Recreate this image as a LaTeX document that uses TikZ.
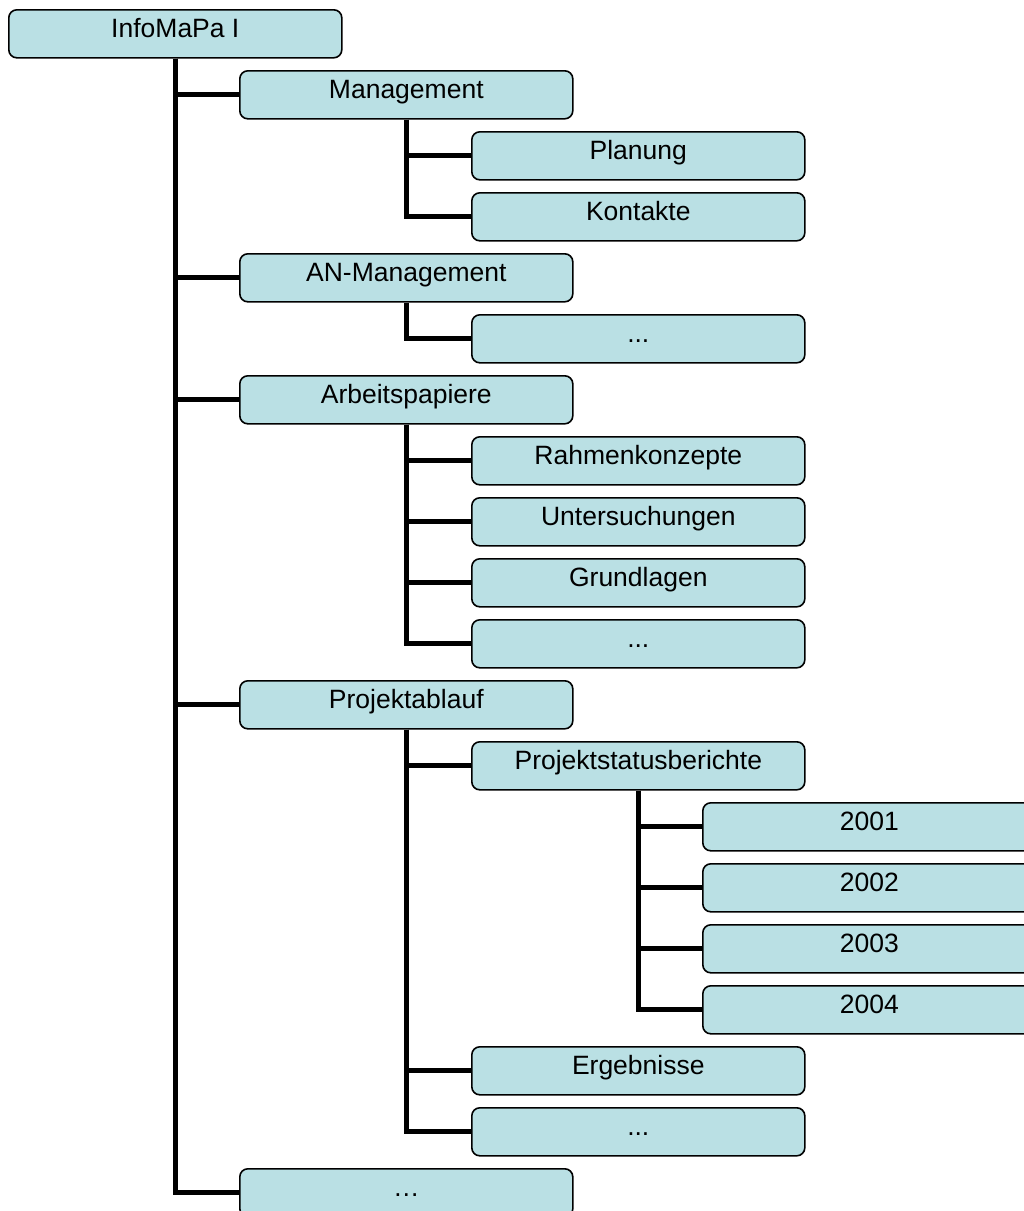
\documentclass[tikz,border=0pt]{standalone}
\usepackage{fontspec}
\setmainfont{Liberation Sans}
\definecolor{boxblue}{RGB}{186, 224, 228}
\usetikzlibrary{positioning}

\begin{document}
\begin{tikzpicture}[x=1pt, y=-1pt,
    folder/.style={draw=black, line width=1.6pt, fill=boxblue, rounded corners=8pt,
      minimum width=333pt, minimum height=48pt, inner sep=0pt, anchor=north west,
      text height=15pt, text depth=7pt, font=\fontsize{26.5}{30}\selectfont},
    branch/.style={line width=5pt, black}]
  \useasboundingbox (0,0) rectangle (1024,1211);
  \clip (0,0) rectangle (1024,1211);

  % root
  \path (8,9) node[folder] (root) {InfoMaPa I};

  % level 1
  \path (239,70)   node[folder] (mgmt) {Management};
  \path (239,253)  node[folder] (anmgmt) {AN-Management};
  \path (239,375)  node[folder] (papers) {Arbeitspapiere};
  \path (239,680)  node[folder] (ablauf) {Projektablauf};
  \path (239,1168) node[folder] (more) {…};

  % level 2
  \path (471,131)  node[folder] (plan) {Planung};
  \path (471,192)  node[folder] (kontakt) {Kontakte};
  \path (471,314)  node[folder] (anmore) {...};
  \path (471,436)  node[folder] (rahmen) {Rahmenkonzepte};
  \path (471,497)  node[folder] (unters) {Untersuchungen};
  \path (471,558)  node[folder] (grund) {Grundlagen};
  \path (471,619)  node[folder] (papmore) {...};
  \path (471,741)  node[folder] (status) {Projektstatusberichte};
  \path (471,1046) node[folder] (ergeb) {Ergebnisse};
  \path (471,1107) node[folder] (ablmore) {...};

  % level 3
  \path (702,802) node[folder] (y1) {2001};
  \path (702,863) node[folder] (y2) {2002};
  \path (702,924) node[folder] (y3) {2003};
  \path (702,985) node[folder] (y4) {2004};

  % tree lines
  \foreach \c in {mgmt, anmgmt, papers, ablauf, more}
    \draw[branch] (root.south) |- (\c.west);
  \foreach \c in {plan, kontakt}
    \draw[branch] (mgmt.south) |- (\c.west);
  \draw[branch] (anmgmt.south) |- (anmore.west);
  \foreach \c in {rahmen, unters, grund, papmore}
    \draw[branch] (papers.south) |- (\c.west);
  \foreach \c in {status, ergeb, ablmore}
    \draw[branch] (ablauf.south) |- (\c.west);
  \foreach \c in {y1, y2, y3, y4}
    \draw[branch] (status.south) |- (\c.west);
\end{tikzpicture}
\end{document}
